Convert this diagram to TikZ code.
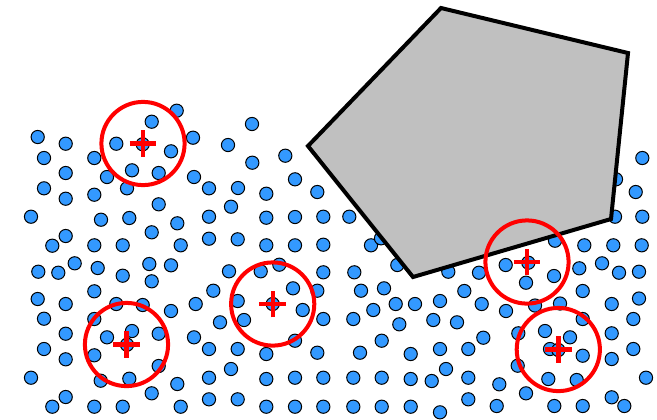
\documentclass[tikz,border=0pt]{standalone}
\usepackage{xcolor}
\usepackage{tikz}
\usetikzlibrary{arrows.meta}
\usetikzlibrary{positioning}

\definecolor{dotblue}{RGB}{51,153,255}
\definecolor{wallgray}{RGB}{192,192,192}

\begin{document}
\begin{tikzpicture}[
        x=0.5pt, y=-0.5pt,
        % 
        particle/.style={
            fill=dotblue,
            draw=black,
            line width=0.5pt,
        },
        % 
        obstacle/.style={
            fill=wallgray,
            draw=black,
            line width=2pt,
            line join=miter,
        },
        probe ring/.style={draw=red, line width=2pt},
        probe cross/.style={draw=red, line width=2.2pt}
        ]
        
        \useasboundingbox (0,0) rectangle (657,419);
        
        % Particles
        
        \foreach \px/\py in {
            176.7/110.7, 151.7/121.7, 37.7/137, 65.7/143.7, 116.3/143.7, 142.7/144.3,
            193/137.7, 171/151.3, 44/158, 94.3/158, 65.7/173, 107/177, 132/170.3,
            158.7/173, 194/177, 209/188.3, 44/188.3, 65.7/198.7, 94.3/194.7,
            127/188.3, 158.7/204.3,
            252/124, 228/145, 252.3/162.7, 285.3/155.7, 238/188, 266.3/193.7,
            295/179.3, 317.3/192, 231/206.7,
            642.3/158, 616/179.3, 635.7/192,
            31/216.7, 101/219.7, 129.3/218, 177.3/223.3, 209/216.7, 65.7/236,
            52.3/245.7, 94.3/245.3, 122.7/245.3, 151.7/232.3, 180.7/245.3, 209/238.7,
            38.3/271.7, 58.3/272.7, 74.7/263.3, 97.7/268, 122.7/275.7, 149.3/264,
            151.7/281.3, 171/265.3, 94.3/291.3, 37.7/299, 65.7/304, 116.3/304,
            142.7/305, 171/311, 195.7/304, 213.3/290.7,
            266.3/217.7, 295/217, 323.3/216.7, 349.3/216.7, 237.7/239.3, 266.3/245.3,
            295/245.3, 323.3/244.7, 371/245.3, 381/238.3, 397.3/265, 229/271.3,
            260.7/271.3, 279.3/264.7, 323.3/272.3, 354.3/272.3, 293/288.3, 317.3/290.7,
            361/290.7, 384/288.3, 237.7/301, 272.7/304, 302.7/310, 373.3/310,
            395.7/304, 415/304,
            615/216.7, 642.3/216.7, 555/240.7, 584.3/245.3, 613.3/245.3, 641.7/245.3,
            448.3/271.7, 479/272.7, 505.7/265, 528.3/262.7, 526/282.7, 554/276,
            579.3/268.3, 602/263.3, 619/272.7, 639/271.7, 440/301, 464.3/291,
            481.7/304, 506/311, 535/305.5, 560/303.5, 582.7/291, 611.7/304, 639/298.5,
            44/318.7, 94.3/319, 220/322.3, 65.7/333.7, 107/337.3, 132/331, 158.7/333.7,
            127/344.7, 194/337.3, 44/349, 94.3/355.3, 65.7/359.3, 158.7/366, 209/349,
            31/377.7, 100.7/380.7, 129.3/378.7, 177.3/384, 209/377.7, 151.7/393.3,
            65.7/397, 52.3/406.7, 94.3/406.7, 122.7/406.7, 180.7/406.7, 209/399.3,
            244/320, 323.3/319, 353.3/319, 399.3/324.3, 295/340.7, 381.7/340.7,
            237.7/349, 266.3/354, 317.3/352.7, 360/352.7, 410.7/354, 231/369,
            266.3/379, 295/377.7, 323.3/377.7, 353.3/377.7, 381.7/377.7, 410.7/379,
            237.7/399.3, 266.3/406.7, 295/406.7, 323.3/406.7, 353.3/406.7, 381.7/406.7,
            410.7/406.7,
            433.3/320, 457/322.3, 582.7/319, 633.3/319, 483.3/337.7, 518.3/333.3,
            545/331, 570/337.3, 611.7/333.3, 440/349, 468.3/349, 550/349, 558.3/350,
            582.7/355.7, 611.7/359, 633.3/349, 446/369, 431.7/381, 468.3/377.7,
            517.7/365.7, 499.3/384.3, 548.3/379, 576.7/380, 526/393.3, 611.7/397.3,
            646/377.7, 468.3/399.3, 496.7/406, 554.3/406, 582.7/406, 624.3/406,
            440/412.3}
            \draw[particle] (\px,\py) circle[radius=3.3pt];
        
        % Obstacle
        
        \draw[obstacle] (308,146) -- (441,8) -- (628,53) -- (611,219) -- (413,277) -- cycle;
        
        % Probes
        
        \coordinate (probe1) at (143,143.5);
        \coordinate (probe2) at (272.7,304);
        \coordinate (probe3) at (527,262);
        \coordinate (probe4) at (126.5,344.5);
        \coordinate (probe5) at (558.3,349.5);
        
        \foreach \p in {probe1,probe2,probe3,probe4,probe5}{
            \draw[probe ring] (\p) circle[radius=20.8pt];
            \draw[probe cross] ([xshift=-6.7pt]\p) -- ([xshift=6.7pt]\p);
            \draw[probe cross] ([yshift=-6.7pt]\p) -- ([yshift=6.7pt]\p);
        }
        % 
    \end{tikzpicture}
\end{document}
